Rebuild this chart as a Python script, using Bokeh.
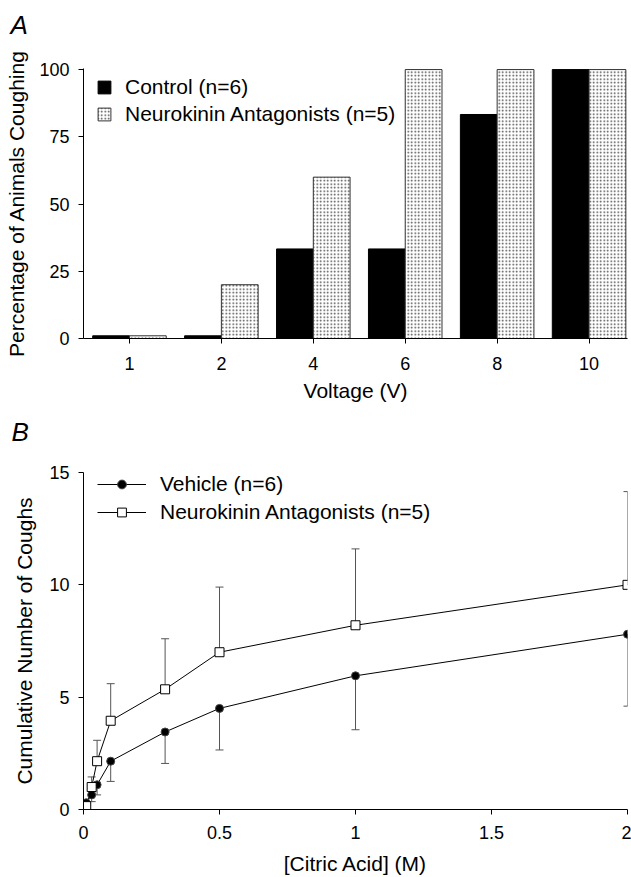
from bokeh.plotting import figure
from bokeh.layouts import column
from bokeh.models import (Range1d, FixedTicker, ColumnDataSource, Whisker, TeeHead,
                          Legend, LegendItem, Title)
from bokeh.embed import file_html
from bokeh.resources import INLINE

FONT = "Liberation Sans"

# ---- Panel A data ----
voltages = ["1", "2", "4", "6", "8", "10"]
control_pct = [1, 1, 33.3, 33.3, 83.3, 100]
nk_pct = [1, 20, 60, 100, 100, 100]
pct_ticks = [0, 25, 50, 75, 100]

# ---- Panel B data ----
citric = [0, 0.01, 0.03, 0.05, 0.1, 0.3, 0.5, 1, 2]
vehicle_mean = [0, 0.3, 0.65, 1.1, 2.15, 3.45, 4.5, 5.95, 7.8]
vehicle_sem = [0, 0.1, 0.3, 0.45, 0.9, 1.4, 1.85, 2.4, 3.2]
nk_mean = [0, 0.15, 1.0, 2.15, 3.95, 5.35, 7.0, 8.2, 10.0]
nk_sem = [0, 0.1, 0.45, 0.93, 1.65, 2.25, 2.9, 3.4, 4.15]
cough_ticks = [0, 5, 10, 15]
citric_ticks = [0, 0.5, 1, 1.5, 2]
citric_labels = ["0", "0.5", "1", "1.5", "2"]


def style_axes(p):
    for ax in (p.xaxis[0], p.yaxis[0]):
        ax.axis_line_color = "black"
        ax.axis_line_width = 1
        ax.major_tick_line_color = "black"
        ax.major_tick_out = 5
        ax.major_tick_in = 0
        ax.minor_tick_line_color = None
        ax.major_label_text_font = FONT
        ax.major_label_text_font_size = "18px"
        ax.major_label_text_color = "black"
        ax.axis_label_text_font = FONT
        ax.axis_label_text_font_size = "21px"
        ax.axis_label_text_font_style = "normal"
        ax.axis_label_text_color = "black"
    p.yaxis.major_label_standoff = 9
    p.xgrid.grid_line_color = None
    p.ygrid.grid_line_color = None
    p.outline_line_color = None


def panel_letter(p, letter, offset, standoff):
    # second (blank) line keeps the letter high in the border
    p.add_layout(Title(text=letter + "\n ", text_font=FONT, text_font_style="italic",
                       text_font_size="26px", text_color="black", align="left",
                       offset=offset, standoff=standoff, vertical_align="bottom"),
                 "above")


# ================= Panel A =================
FH_A = 270
idx = list(range(len(voltages)))
srcA = ColumnDataSource(dict(
    xc=[i - 0.2 for i in idx], xn=[i + 0.2 for i in idx],
    control=control_pct, nk=nk_pct))

pA = figure(width=631, height=410, output_backend="svg", toolbar_location=None,
            x_range=Range1d(-0.5, 5.418), y_range=Range1d(0, 100.4),
            min_border_left=83, min_border_right=0, min_border_top=68,
            min_border_bottom=72)
style_axes(pA)
panel_letter(pA, "A", -73, -2)

rc = pA.vbar(x="xc", top="control", width=0.4, bottom=0, source=srcA,
             fill_color="black", line_color="black", line_width=1)
rn = pA.vbar(x="xn", top="nk", width=0.4, bottom=0, source=srcA,
             fill_color="white", line_color="#333333", line_width=1,
             hatch_pattern="dot", hatch_color="#444444", hatch_scale=3.5,
             hatch_weight=1)

pA.xaxis.ticker = FixedTicker(ticks=idx)
pA.xaxis.major_label_overrides = {i: v for i, v in zip(idx, voltages)}
pA.yaxis.ticker = FixedTicker(ticks=pct_ticks)
pA.xaxis.axis_label = "Voltage (V)"
pA.yaxis.axis_label = "Percentage of Animals Coughing"
pA.xaxis.major_label_standoff = 13
pA.xaxis.axis_label_standoff = 6
pA.yaxis.axis_label_standoff = 8

legA = Legend(items=[LegendItem(label="Control (n=6)", renderers=[rc]),
                     LegendItem(label="Neurokinin Antagonists (n=5)", renderers=[rn])],
              location=(13, FH_A - 7 - 51), padding=0, spacing=3, glyph_width=16,
              glyph_height=16, label_standoff=13, label_height=24,
              label_text_font=FONT, label_text_font_size="21px",
              label_text_color="black",
              border_line_color=None, background_fill_alpha=0)
pA.add_layout(legA)

# ================= Panel B =================
FH_B = 339
srcV = ColumnDataSource(dict(x=citric, y=vehicle_mean,
                             lo=[m - s for m, s in zip(vehicle_mean, vehicle_sem)]))
srcN = ColumnDataSource(dict(x=citric, y=nk_mean,
                             hi=[m + s for m, s in zip(nk_mean, nk_sem)]))

pB = figure(width=631, height=467, output_backend="svg", toolbar_location=None,
            x_range=Range1d(0, 2.0), y_range=Range1d(0, 15),
            min_border_left=82, min_border_right=4, min_border_top=62,
            min_border_bottom=66)
style_axes(pB)
panel_letter(pB, "B", -72, -9)

wv = Whisker(base="x", lower="lo", upper="y", source=srcV, dimension="height",
             line_color="#555555", line_width=1,
             lower_head=TeeHead(size=8, line_color="#555555", line_width=1),
             upper_head=None)
wn = Whisker(base="x", lower="y", upper="hi", source=srcN, dimension="height",
             line_color="#555555", line_width=1,
             upper_head=TeeHead(size=8, line_color="#555555", line_width=1),
             lower_head=None)
pB.add_layout(wv)
pB.add_layout(wn)

lv = pB.line("x", "y", source=srcV, line_color="black", line_width=1)
ln = pB.line("x", "y", source=srcN, line_color="black", line_width=1)
sv = pB.scatter("x", "y", source=srcV, marker="circle", size=8,
                fill_color="black", line_color="#444444", line_width=1)
sn = pB.scatter("x", "y", source=srcN, marker="square", size=9,
                fill_color="white", line_color="black", line_width=1)

pB.xaxis.ticker = FixedTicker(ticks=citric_ticks)
pB.xaxis.major_label_overrides = {t: l for t, l in zip(citric_ticks, citric_labels)}
pB.yaxis.ticker = FixedTicker(ticks=cough_ticks)
pB.xaxis.axis_label = "[Citric Acid] (M)"
pB.yaxis.axis_label = "Cumulative Number of Coughs"
pB.xaxis.major_label_standoff = 11
pB.xaxis.axis_label_standoff = 10
pB.yaxis.axis_label_standoff = 10

legB = Legend(items=[LegendItem(label="Vehicle (n=6)", renderers=[lv, sv]),
                     LegendItem(label="Neurokinin Antagonists (n=5)", renderers=[ln, sn])],
              location=(14, FH_B - 54), padding=0, spacing=4, glyph_width=49,
              glyph_height=22, label_standoff=14, label_height=24,
              label_text_font=FONT, label_text_font_size="21px",
              label_text_color="black",
              border_line_color=None, background_fill_alpha=0)
pB.add_layout(legB)

layout = column(pA, pB, spacing=0)
open("out.html", "w").write(file_html(layout, INLINE))
